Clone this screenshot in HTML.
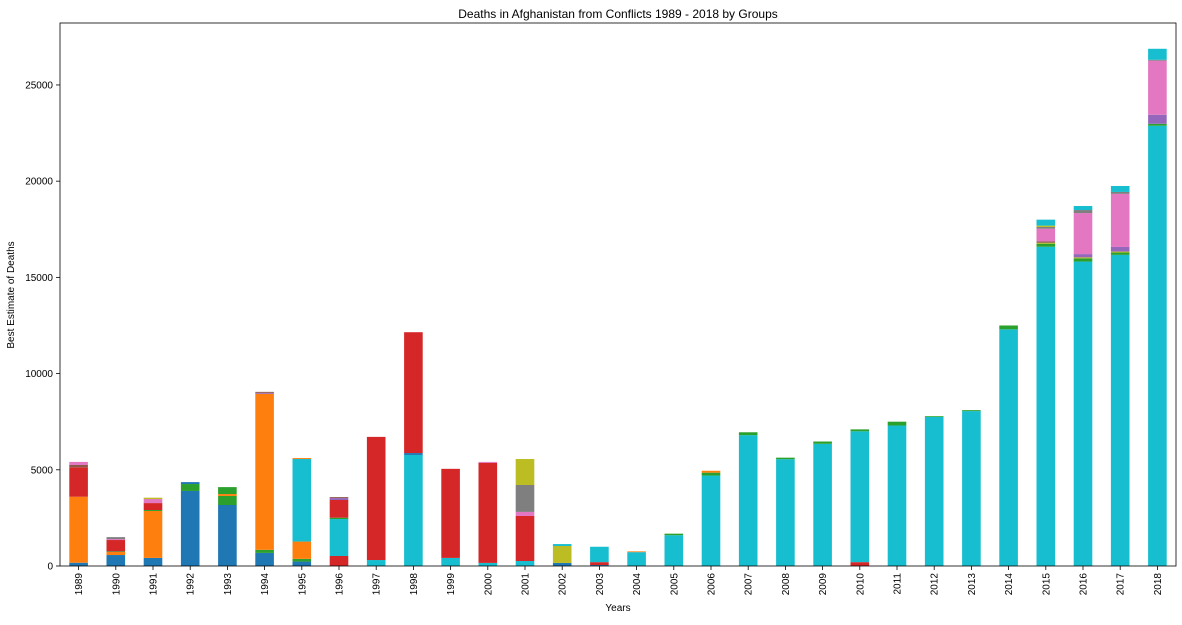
<!DOCTYPE html>
<html><head><meta charset="utf-8"><style>
body{margin:0;background:#fff;}
svg text{font-family:"Liberation Sans","DejaVu Sans",sans-serif;fill:#000;}
</style></head><body>
<svg id="chart" width="1182" height="620" xmlns="http://www.w3.org/2000/svg">
<rect width="1182" height="620" fill="#fff"/>
<text x="618" y="18" font-size="12" text-anchor="middle">Deaths in Afghanistan from Conflicts 1989 - 2018 by Groups</text>
<text transform="translate(14,295) rotate(-90)" font-size="10" text-anchor="middle">Best Estimate of Deaths</text>
<text x="618" y="611" font-size="10" text-anchor="middle">Years</text>
<g id="bars"></g><g id="axes"></g>
</svg>
<script>
const years=[1989,1990,1991,1992,1993,1994,1995,1996,1997,1998,1999,2000,2001,2002,2003,2004,2005,2006,2007,2008,2009,2010,2011,2012,2013,2014,2015,2016,2017,2018];
const seriesColors=["#1f77b4","#2ca02c","#ff7f0e","#d62728","#17becf","#1f77b4","#2ca02c","#bcbd22","#ff7f0e","#d62728","#9467bd","#8c564b","#e377c2","#7f7f7f","#bcbd22","#17becf"];
const sA=[170,570,420,3900,3170,680,230,0,0,0,0,0,0,160,50,0,0,0,0,0,0,0,0,0,0,0,0,0,0,0];
const sB=[0,0,0,360,470,160,140,0,0,0,0,0,0,0,0,0,0,0,0,0,0,0,0,0,0,0,0,0,0,0];
const sC=[3430,160,2440,0,100,8110,900,0,0,0,0,0,0,0,0,0,0,0,0,0,0,0,0,0,0,0,0,0,0,0];
const sD=[0,0,0,0,0,0,0,520,0,0,0,0,0,0,150,0,0,0,0,0,0,200,0,0,0,0,0,0,0,0];
const sE=[0,0,0,0,0,0,4290,1920,310,5770,420,160,260,0,800,720,1600,4700,6800,5550,6350,6800,7300,7750,8050,12300,16590,15820,16170,22880];
const sBlue2=[0,0,0,100,0,0,0,0,0,100,0,0,0,0,0,0,0,0,0,0,0,0,0,0,0,0,0,0,0,0];
const sF=[0,30,50,0,360,0,0,70,0,0,0,0,0,0,0,0,80,150,150,80,120,100,200,40,50,200,160,170,120,100];
const sOlive2=[0,0,0,0,0,0,0,0,0,0,0,0,0,0,0,0,0,0,0,0,0,0,0,0,0,0,50,50,50,0];
const sG=[0,0,0,0,0,0,50,0,0,0,0,0,0,0,0,40,0,100,0,0,0,0,0,0,0,0,0,0,0,0];
const sH=[1530,590,360,0,0,0,0,920,6400,6280,4630,5200,2340,0,0,0,0,0,0,0,0,0,0,0,0,0,0,0,0,0];
const sI=[0,0,0,0,0,50,0,100,0,0,0,0,0,0,0,0,0,0,0,0,0,0,0,0,0,0,0,170,240,470];
const sJ=[120,0,0,0,0,50,0,50,0,0,0,0,0,0,0,0,0,0,0,0,0,0,0,0,0,0,70,0,0,0];
const sK=[160,50,210,0,0,0,0,0,0,0,0,50,210,0,0,0,0,0,0,0,0,0,0,0,0,0,660,2130,2760,2810];
const sL=[0,100,0,0,0,0,0,0,0,0,0,0,1400,0,0,0,0,0,0,0,0,0,0,0,0,0,90,160,100,50];
const sM=[0,0,70,0,0,0,0,0,0,0,0,0,1350,880,0,0,0,0,0,0,0,0,0,0,0,0,70,0,0,0];
const sN=[0,0,0,0,0,0,0,0,0,0,0,0,0,100,0,0,0,0,0,0,0,0,0,0,0,0,310,210,310,570];
const yTicks=[0,5000,10000,15000,20000,25000];
const allSeries=[sA,sB,sC,sD,sE,sBlue2,sF,sOlive2,sG,sH,sI,sJ,sK,sL,sM,sN];
const L=60,R=1176,T=23,B=566,yMax=28220;
const NS="http://www.w3.org/2000/svg";
const step=(R-L)/years.length;
function xC(i){return L+(i+0.5)*step;}
function yS(v){return B-(v/yMax)*(B-T);}
const bars=document.getElementById('bars'),axes=document.getElementById('axes');
function mk(tag,attrs,parent){const e=document.createElementNS(NS,tag);for(const k in attrs)e.setAttribute(k,attrs[k]);parent.appendChild(e);return e;}
years.forEach((yr,i)=>{
  let base=0;
  allSeries.forEach((s,si)=>{
    const v=s[i];if(!v)return;
    const r=mk('rect',{x:xC(i)-step*0.25,width:step*0.5,y:yS(base+v),height:yS(base)-yS(base+v),fill:seriesColors[si]},bars);
    
    
    base+=v;
  });
  const t=mk('line',{x1:xC(i),x2:xC(i),y1:B,y2:B+4,stroke:'#000','stroke-width':0.8},axes);
  
  
  const lb=mk('text',{transform:`translate(${xC(i)+3.5},${B+7}) rotate(-90)`,'font-size':10,'text-anchor':'end'},axes);
  lb.textContent=yr;
  
  
});
yTicks.forEach(v=>{
  const t=mk('line',{x1:L-4,x2:L,y1:yS(v),y2:yS(v),stroke:'#000','stroke-width':0.8},axes);
  
  
  const lb=mk('text',{x:L-7,y:yS(v)+3.5,'font-size':10,'text-anchor':'end'},axes);
  lb.textContent=v;
  
  
});
const fr=mk('rect',{x:L,y:T,width:R-L,height:B-T,fill:'none',stroke:'#000','stroke-width':0.8},axes);


</script>
</body></html>
